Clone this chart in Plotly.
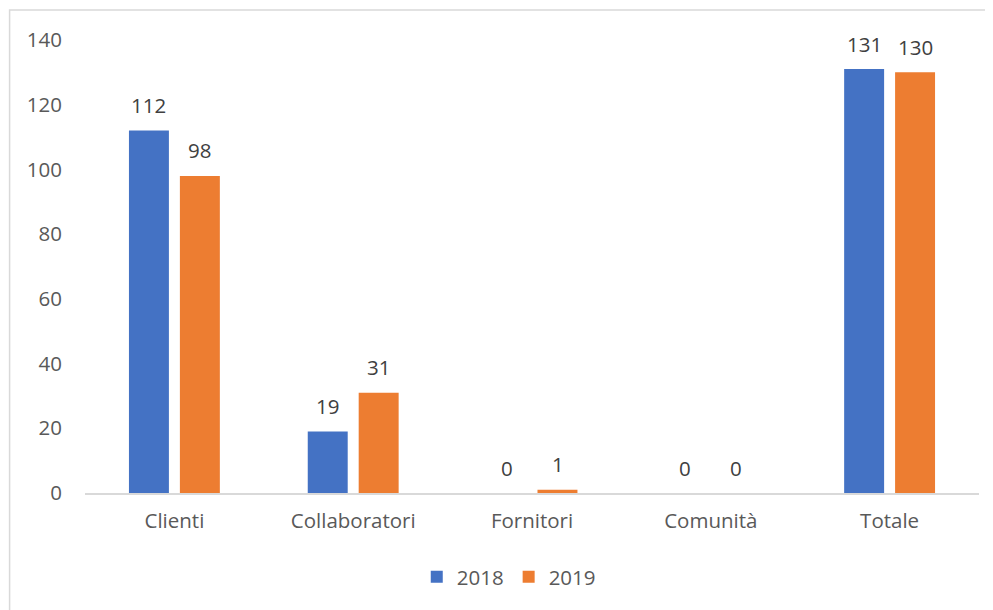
import plotly.graph_objects as go

categories = ["Clienti", "Collaboratori", "Fornitori", "Comunità", "Totale"]
values_2018 = [112, 19, 0, 0, 131]
values_2019 = [98, 31, 1, 0, 130]
y_ticks = [0, 20, 40, 60, 80, 100, 120, 140]

FONT = "Open Sans, sans-serif"
FS = 20.5
BLUE, ORANGE = "#4472C4", "#ED7D31"

W, H = 993, 610
# page has an 8px body margin; positions are in figure coordinates
l, r, t, b = 76.5, 21.5, 32, 125
pw, ph = W - l - r, H - t - b
cat_w = pw / len(categories)
slot = 51.0
bargap = 1 - 2 * slot / cat_w
bargroupgap = 11.0 / slot

fig = go.Figure()
fig.add_trace(go.Bar(name="2018", x=categories, y=values_2018, marker_color=BLUE,
                     marker_line_width=0, cliponaxis=False))
fig.add_trace(go.Bar(name="2019", x=categories, y=values_2019, marker_color=ORANGE,
                     marker_line_width=0, cliponaxis=False))

annotations = []
for vals, shift in ((values_2018, -slot / 2), (values_2019, slot / 2)):
    for c, v in zip(categories, vals):
        annotations.append(dict(x=c, y=v, xref="x", yref="y", text=str(v),
                                showarrow=False, xshift=shift, yshift=25.5,
                                xanchor="center", yanchor="middle",
                                font=dict(family=FONT, size=FS, color="#404040")))

fig.update_layout(
    width=W, height=H,
    margin=dict(l=l, r=r, t=t, b=b, pad=0),
    paper_bgcolor="white", plot_bgcolor="white",
    barmode="group", bargap=bargap, bargroupgap=bargroupgap,
    font=dict(family=FONT, size=FS, color="#595959"),
    xaxis=dict(showline=True, linecolor="#D9D9D9", linewidth=1.5, ticks="",
               ticklabelstandoff=9, tickfont=dict(size=FS, color="#595959")),
    yaxis=dict(range=[0, 140], tickvals=y_ticks, showgrid=False, zeroline=False,
               showline=False, ticks="", ticklabelstandoff=22,
               tickfont=dict(size=FS, color="#595959")),
    legend=dict(orientation="h", x=0.474, xanchor="center", y=-0.185, yanchor="middle",
                font=dict(size=FS, color="#595959"), traceorder="normal"),
    showlegend=True,
    annotations=annotations,
    shapes=[dict(type="rect", xref="paper", yref="paper",
                 x0=(1 - l) / pw, x1=1.2, y0=-0.5, y1=1 + 30 / ph,
                 line=dict(color="#D9D9D9", width=1.5), layer="below")],
)

fig.write_html("out.html")
